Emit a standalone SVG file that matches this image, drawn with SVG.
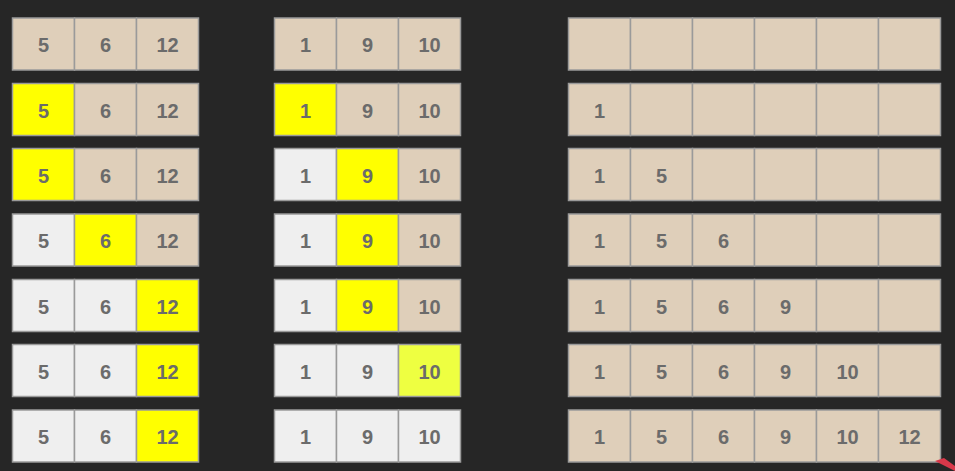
<svg xmlns="http://www.w3.org/2000/svg" width="955" height="471" viewBox="0 0 955 471">
<style>
.c{stroke:#9a9a9a;stroke-width:1.5}
.b{fill:#dfcfba}.y{fill:#ffff00}.g{fill:#efefef}.l{fill:#eeff41}
text{font-family:"Liberation Sans",Arial,sans-serif;font-weight:bold;font-size:20px;fill:#6b6b6b;text-anchor:middle;dominant-baseline:central}
</style>
<rect width="955" height="471" fill="#262626"/>
<defs>
<g id="cell"/>
</defs>
<!-- Row 1 -->
<g id="r1" transform="translate(0,18)">
<rect class="c b" x="12.5" y="0" width="62" height="52"/><text x="43.5" y="27">5</text>
<rect class="c b" x="74.5" y="0" width="62" height="52"/><text x="105.5" y="27">6</text>
<rect class="c b" x="136.5" y="0" width="62" height="52"/><text x="167.5" y="27">12</text>
<rect class="c b" x="274.5" y="0" width="62" height="52"/><text x="305.5" y="27">1</text>
<rect class="c b" x="336.5" y="0" width="62" height="52"/><text x="367.5" y="27">9</text>
<rect class="c b" x="398.5" y="0" width="62" height="52"/><text x="429.5" y="27">10</text>
<rect class="c b" x="568.5" y="0" width="62" height="52"/>
<rect class="c b" x="630.5" y="0" width="62" height="52"/>
<rect class="c b" x="692.5" y="0" width="62" height="52"/>
<rect class="c b" x="754.5" y="0" width="62" height="52"/>
<rect class="c b" x="816.5" y="0" width="62" height="52"/>
<rect class="c b" x="878.5" y="0" width="62" height="52"/>
</g>
<!-- Row 2 -->
<g id="r2" transform="translate(0,83.5)">
<rect class="c y" x="12.5" y="0" width="62" height="52"/><text x="43.5" y="27">5</text>
<rect class="c b" x="74.5" y="0" width="62" height="52"/><text x="105.5" y="27">6</text>
<rect class="c b" x="136.5" y="0" width="62" height="52"/><text x="167.5" y="27">12</text>
<rect class="c y" x="274.5" y="0" width="62" height="52"/><text x="305.5" y="27">1</text>
<rect class="c b" x="336.5" y="0" width="62" height="52"/><text x="367.5" y="27">9</text>
<rect class="c b" x="398.5" y="0" width="62" height="52"/><text x="429.5" y="27">10</text>
<rect class="c b" x="568.5" y="0" width="62" height="52"/><text x="599.5" y="27">1</text>
<rect class="c b" x="630.5" y="0" width="62" height="52"/>
<rect class="c b" x="692.5" y="0" width="62" height="52"/>
<rect class="c b" x="754.5" y="0" width="62" height="52"/>
<rect class="c b" x="816.5" y="0" width="62" height="52"/>
<rect class="c b" x="878.5" y="0" width="62" height="52"/>
</g>
<!-- Row 3 -->
<g id="r3" transform="translate(0,148.5)">
<rect class="c y" x="12.5" y="0" width="62" height="52"/><text x="43.5" y="27">5</text>
<rect class="c b" x="74.5" y="0" width="62" height="52"/><text x="105.5" y="27">6</text>
<rect class="c b" x="136.5" y="0" width="62" height="52"/><text x="167.5" y="27">12</text>
<rect class="c g" x="274.5" y="0" width="62" height="52"/><text x="305.5" y="27">1</text>
<rect class="c y" x="336.5" y="0" width="62" height="52"/><text x="367.5" y="27">9</text>
<rect class="c b" x="398.5" y="0" width="62" height="52"/><text x="429.5" y="27">10</text>
<rect class="c b" x="568.5" y="0" width="62" height="52"/><text x="599.5" y="27">1</text>
<rect class="c b" x="630.5" y="0" width="62" height="52"/><text x="661.5" y="27">5</text>
<rect class="c b" x="692.5" y="0" width="62" height="52"/>
<rect class="c b" x="754.5" y="0" width="62" height="52"/>
<rect class="c b" x="816.5" y="0" width="62" height="52"/>
<rect class="c b" x="878.5" y="0" width="62" height="52"/>
</g>
<!-- Row 4 -->
<g id="r4" transform="translate(0,214)">
<rect class="c g" x="12.5" y="0" width="62" height="52"/><text x="43.5" y="27">5</text>
<rect class="c y" x="74.5" y="0" width="62" height="52"/><text x="105.5" y="27">6</text>
<rect class="c b" x="136.5" y="0" width="62" height="52"/><text x="167.5" y="27">12</text>
<rect class="c g" x="274.5" y="0" width="62" height="52"/><text x="305.5" y="27">1</text>
<rect class="c y" x="336.5" y="0" width="62" height="52"/><text x="367.5" y="27">9</text>
<rect class="c b" x="398.5" y="0" width="62" height="52"/><text x="429.5" y="27">10</text>
<rect class="c b" x="568.5" y="0" width="62" height="52"/><text x="599.5" y="27">1</text>
<rect class="c b" x="630.5" y="0" width="62" height="52"/><text x="661.5" y="27">5</text>
<rect class="c b" x="692.5" y="0" width="62" height="52"/><text x="723.5" y="27">6</text>
<rect class="c b" x="754.5" y="0" width="62" height="52"/>
<rect class="c b" x="816.5" y="0" width="62" height="52"/>
<rect class="c b" x="878.5" y="0" width="62" height="52"/>
</g>
<!-- Row 5 -->
<g id="r5" transform="translate(0,279.5)">
<rect class="c g" x="12.5" y="0" width="62" height="52"/><text x="43.5" y="27">5</text>
<rect class="c g" x="74.5" y="0" width="62" height="52"/><text x="105.5" y="27">6</text>
<rect class="c y" x="136.5" y="0" width="62" height="52"/><text x="167.5" y="27">12</text>
<rect class="c g" x="274.5" y="0" width="62" height="52"/><text x="305.5" y="27">1</text>
<rect class="c y" x="336.5" y="0" width="62" height="52"/><text x="367.5" y="27">9</text>
<rect class="c b" x="398.5" y="0" width="62" height="52"/><text x="429.5" y="27">10</text>
<rect class="c b" x="568.5" y="0" width="62" height="52"/><text x="599.5" y="27">1</text>
<rect class="c b" x="630.5" y="0" width="62" height="52"/><text x="661.5" y="27">5</text>
<rect class="c b" x="692.5" y="0" width="62" height="52"/><text x="723.5" y="27">6</text>
<rect class="c b" x="754.5" y="0" width="62" height="52"/><text x="785.5" y="27">9</text>
<rect class="c b" x="816.5" y="0" width="62" height="52"/>
<rect class="c b" x="878.5" y="0" width="62" height="52"/>
</g>
<!-- Row 6 -->
<g id="r6" transform="translate(0,344.5)">
<rect class="c g" x="12.5" y="0" width="62" height="52"/><text x="43.5" y="27">5</text>
<rect class="c g" x="74.5" y="0" width="62" height="52"/><text x="105.5" y="27">6</text>
<rect class="c y" x="136.5" y="0" width="62" height="52"/><text x="167.5" y="27">12</text>
<rect class="c g" x="274.5" y="0" width="62" height="52"/><text x="305.5" y="27">1</text>
<rect class="c g" x="336.5" y="0" width="62" height="52"/><text x="367.5" y="27">9</text>
<rect class="c l" x="398.5" y="0" width="62" height="52"/><text x="429.5" y="27">10</text>
<rect class="c b" x="568.5" y="0" width="62" height="52"/><text x="599.5" y="27">1</text>
<rect class="c b" x="630.5" y="0" width="62" height="52"/><text x="661.5" y="27">5</text>
<rect class="c b" x="692.5" y="0" width="62" height="52"/><text x="723.5" y="27">6</text>
<rect class="c b" x="754.5" y="0" width="62" height="52"/><text x="785.5" y="27">9</text>
<rect class="c b" x="816.5" y="0" width="62" height="52"/><text x="847.5" y="27">10</text>
<rect class="c b" x="878.5" y="0" width="62" height="52"/>
</g>
<!-- Row 7 -->
<g id="r7" transform="translate(0,410)">
<rect class="c g" x="12.5" y="0" width="62" height="52"/><text x="43.5" y="27">5</text>
<rect class="c g" x="74.5" y="0" width="62" height="52"/><text x="105.5" y="27">6</text>
<rect class="c y" x="136.5" y="0" width="62" height="52"/><text x="167.5" y="27">12</text>
<rect class="c g" x="274.5" y="0" width="62" height="52"/><text x="305.5" y="27">1</text>
<rect class="c g" x="336.5" y="0" width="62" height="52"/><text x="367.5" y="27">9</text>
<rect class="c g" x="398.5" y="0" width="62" height="52"/><text x="429.5" y="27">10</text>
<rect class="c b" x="568.5" y="0" width="62" height="52"/><text x="599.5" y="27">1</text>
<rect class="c b" x="630.5" y="0" width="62" height="52"/><text x="661.5" y="27">5</text>
<rect class="c b" x="692.5" y="0" width="62" height="52"/><text x="723.5" y="27">6</text>
<rect class="c b" x="754.5" y="0" width="62" height="52"/><text x="785.5" y="27">9</text>
<rect class="c b" x="816.5" y="0" width="62" height="52"/><text x="847.5" y="27">10</text>
<rect class="c b" x="878.5" y="0" width="62" height="52"/><text x="909.5" y="27">12</text>
</g>
<path d="M935 461 L944 458 L955 466 L955 471 Z" fill="#d8384a"/>
</svg>
